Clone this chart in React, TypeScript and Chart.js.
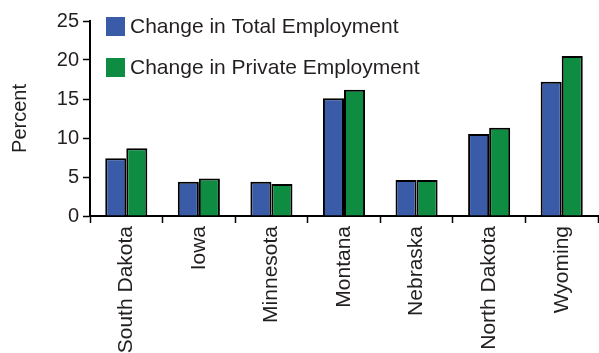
import React, { useEffect, useRef } from "react";
import { Chart, registerables } from "chart.js";
Chart.register(...registerables);

const categories = ["South Dakota", "Iowa", "Minnesota", "Montana", "Nebraska", "North Dakota", "Wyoming"];
const totalEmployment = [7.4, 4.4, 4.4, 15.1, 4.6, 10.5, 17.2];
const privateEmployment = [8.7, 4.8, 4.1, 16.2, 4.6, 11.3, 20.5];
const seriesNames = ["Change in Total Employment", "Change in Private Employment"];
const yTicks = [0, 5, 10, 15, 20, 25];

const BLUE = "#3a5ba8";
const GREEN = "#0e8c41";
const TEXT = "#231f20";
const FONT = "'Liberation Sans', Arial, sans-serif";

const legendPlugin = {
  id: "customLegend",
  afterDraw(chart: any) {
    const ctx = chart.ctx;
    const area = chart.chartArea;
    const colors = [BLUE, GREEN];
    ctx.save();
    seriesNames.forEach((name, i) => {
      const x = area.left + 16;
      const y = area.top - 4 + i * 41;
      ctx.fillStyle = colors[i];
      ctx.fillRect(x, y, 19, 19);
      ctx.fillStyle = TEXT;
      ctx.font = `21px ${FONT}`;
      ctx.textBaseline = "middle";
      ctx.textAlign = "left";
      ctx.fillText(name, x + 24, y + 10);
    });
    ctx.restore();
  },
};

export default function App() {
  const ref = useRef<HTMLCanvasElement>(null);
  useEffect(() => {
    document.body.style.margin = "0";
    const chart = new Chart(ref.current!, {
      type: "bar",
      data: {
        labels: categories,
        datasets: [
          { label: seriesNames[0], data: totalEmployment, backgroundColor: BLUE, borderColor: "#000", borderWidth: 2, borderSkipped: "bottom" },
          { label: seriesNames[1], data: privateEmployment, backgroundColor: GREEN, borderColor: "#000", borderWidth: 2, borderSkipped: "bottom" },
        ],
      },
      options: {
        animation: false,
        responsive: false,
        layout: { padding: { top: 21, right: 1, left: 0, bottom: 0 } },
        plugins: { legend: { display: false }, tooltip: { enabled: false } },
        datasets: { bar: { categoryPercentage: 0.58, barPercentage: 1 } },
        scales: {
          x: {
            offset: true,
            grid: { display: true, drawOnChartArea: false, offset: true, tickLength: 7, color: "#000", tickWidth: 1.5 },
            border: { color: "#000", width: 2 },
            ticks: { color: TEXT, font: { family: FONT, size: 21 }, minRotation: 90, maxRotation: 90, padding: 3, autoSkip: false },
            afterFit: (s: any) => { s.height = 137; },
          },
          y: {
            min: 0,
            max: 25,
            afterBuildTicks: (s: any) => { s.ticks = yTicks.map((v) => ({ value: v })); },
            grid: { display: true, drawOnChartArea: false, tickLength: 7, color: "#000", tickWidth: 1.5 },
            border: { color: "#000", width: 2 },
            ticks: { color: TEXT, font: { family: FONT, size: 20 }, padding: 4 },
            title: { display: true, text: "Percent", color: TEXT, font: { family: FONT, size: 20 }, padding: { top: 8, bottom: 0 } },
            afterFit: (s: any) => { s.width = 90; },
          },
        },
      },
      plugins: [legendPlugin],
    });
    return () => chart.destroy();
  }, []);
  return <canvas ref={ref} width={599} height={353} style={{ display: "block" }} />;
}
